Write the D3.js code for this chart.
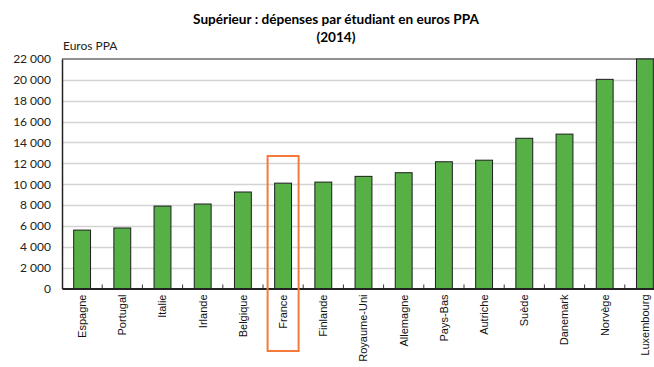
<!DOCTYPE html>
<html>
<head>
<meta charset="utf-8">
<script src="https://cdn.jsdelivr.net/npm/d3@7"></script>
<style>
  html, body { margin: 0; padding: 0; background: #fff; }
  svg { display: block; font-family: Lato, "Open Sans", sans-serif; }
</style>
</head>
<body>
<svg id="chart" width="654" height="367"></svg>
<script>
// Dépenses par étudiant dans le supérieur, euros PPA, 2014
const countries = ["Espagne", "Portugal", "Italie", "Irlande", "Belgique", "France", "Finlande",
  "Royaume-Uni", "Allemagne", "Pays-Bas", "Autriche", "Suède", "Danemark", "Norvège", "Luxembourg"];
const spending = [5600, 5800, 7900, 8100, 9250, 10100, 10200,
  10750, 11100, 12150, 12300, 14400, 14800, 20050, 38000];
const yTicks = [0, 2000, 4000, 6000, 8000, 10000, 12000, 14000, 16000, 18000, 20000, 22000];
const highlighted = ["France"];

const svg = d3.select("#chart");
const margin = { left: 62, top: 59, right: -11, bottom: 78 };
const W = 654, H = 367;
const x0 = margin.left, x1 = W - margin.right;
const y1 = margin.top;

const x = d3.scaleBand().domain(countries).range([x0, x1]).paddingInner(0.58).paddingOuter(0.29);
const y = d3.scaleLinear().domain([0, 22000]).range([288.5, y1]).clamp(true);

// Titre
const title = svg.append("g").attr("font-weight", "bold").attr("font-size", 13.6)
  .attr("text-anchor", "middle").attr("fill", "#000");
title.append("text").attr("x", 336).attr("y", 23.5).text("Supérieur : dépenses par étudiant en euros PPA");
title.append("text").attr("x", 336).attr("y", 41.5).text("(2014)");

svg.append("text").attr("x", 63).attr("y", 50).attr("font-size", 12).attr("fill", "#222").text("Euros PPA");

// Quadrillage horizontal
svg.append("g").selectAll("line").data(yTicks.filter(d => d > 0 && d < 22000)).join("line")
  .attr("x1", x0).attr("x2", W).attr("y1", d => Math.round(y(d)) + 0.5).attr("y2", d => Math.round(y(d)) + 0.5)
  .attr("stroke", "#d4d4d4").attr("stroke-width", 1.5);
svg.append("line").attr("x1", x0).attr("x2", W).attr("y1", y(22000)).attr("y2", y(22000))
  .attr("stroke", "#6b6b6b").attr("stroke-width", 1.5);

// Axe vertical
const yAxis = d3.axisLeft(y).tickValues(yTicks).tickSize(0).tickPadding(11)
  .tickFormat(d => d3.format(",")(d).replace(/,/g, " "));
const gy = svg.append("g").attr("transform", `translate(${x0},0)`).call(yAxis);
gy.select(".domain").attr("stroke", "#222").attr("stroke-width", 1.5);
gy.selectAll("text").attr("font-size", 12).attr("fill", "#222").attr("font-family", "Lato, sans-serif");

// Barres
svg.append("g").selectAll("rect").data(countries).join("rect")
  .attr("x", d => x(d)).attr("width", x.bandwidth())
  .attr("y", (d, i) => y(spending[i])).attr("height", (d, i) => y(0) - y(spending[i]))
  .attr("fill", "#56b046").attr("stroke", "#1e1e1e").attr("stroke-width", 1);

// Axe horizontal
const xAxis = d3.axisBottom(x).tickSize(0).tickPadding(0);
const gx = svg.append("g").attr("transform", `translate(0,${y(0)})`).call(xAxis);
gx.select(".domain").attr("stroke", "#222").attr("stroke-width", 2);
gx.selectAll(".tick text").attr("font-size", 11).attr("fill", "#111")
  .attr("transform", "rotate(-90)").attr("text-anchor", "end").attr("dy", "0.35em")
  .attr("x", -6).attr("y", 0);
// petites graduations entre les catégories
const step = x.step();
svg.append("g").selectAll("line").data(countries.slice(1)).join("line")
  .attr("x1", d => x(d) - (step - x.bandwidth()) / 2).attr("x2", d => x(d) - (step - x.bandwidth()) / 2)
  .attr("y1", y(0) - 4).attr("y2", y(0)).attr("stroke", "#333").attr("stroke-width", 1);

// Encadré France
highlighted.forEach(c => {
  const cx = x(c) + x.bandwidth() / 2;
  svg.append("rect").attr("x", cx - 15.5).attr("y", 156).attr("width", 31).attr("height", 195)
    .attr("fill", "none").attr("stroke", "#f47a3c").attr("stroke-width", 2);
});
</script>
</body>
</html>
